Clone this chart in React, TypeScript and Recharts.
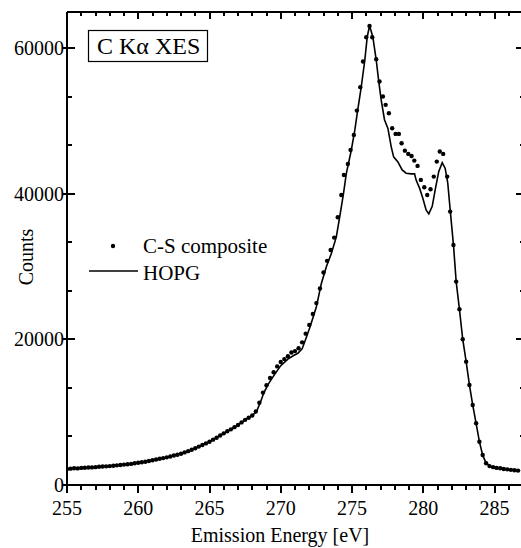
import React from 'react';
import * as R from 'recharts';
import {
  ComposedChart, Line, Scatter, XAxis, YAxis, Legend, Label, Customized,
} from 'recharts';

// ---------- data ----------
const seriesNames = ['C-S composite', 'HOPG'];
const titleText = 'C Kα XES';
const xAxisTitle = 'Emission Energy [eV]';
const yAxisTitle = 'Counts';

const xMajorTicks = [255, 260, 265, 270, 275, 280, 285];
const xMinorTicks = [256, 257, 258, 259, 261, 262, 263, 264, 266, 267, 268, 269, 271, 272, 273, 274, 276, 277, 278, 279, 281, 282, 283, 284, 286];
const yMajorTicks = [0, 20000, 40000, 60000];
const yMinorTicks = [6667, 13333, 26667, 33333, 46667, 53333];

const hopgEnergy = [
  255.0, 255.5, 256.0, 256.5, 257.0, 257.5, 258.0, 258.5, 259.0, 259.5,
  260.0, 260.5, 261.0, 261.5, 262.0, 262.5, 263.0, 263.5, 264.0, 264.5,
  265.0, 265.5, 266.0, 266.5, 267.0, 267.5, 268.0, 268.3, 268.6, 268.8,
  269.1, 269.5, 270.0, 270.5, 270.9, 271.2, 271.5, 271.8, 272.1, 272.5,
  272.85, 273.2, 273.55, 273.9, 274.15, 274.4, 274.6, 274.95, 275.2, 275.4,
  275.65, 275.9, 276.07, 276.23, 276.46, 276.7, 276.88, 277.05, 277.28, 277.52,
  277.75, 277.92, 278.22, 278.52, 278.8, 279.15, 279.39, 279.5, 279.74, 279.97,
  280.2, 280.39, 280.63, 280.86, 281.09, 281.33, 281.54, 281.72, 281.89, 282.12,
  282.31, 282.54, 282.77, 283.01, 283.24, 283.47, 283.71, 283.94, 284.17, 284.41,
  284.76, 285.34, 286.04, 286.8,
];
const hopgCounts = [
  2200, 2300, 2350, 2400, 2450, 2550, 2600, 2700, 2800, 2900,
  3050, 3200, 3400, 3600, 3800, 4050, 4300, 4650, 5050, 5500,
  5950, 6500, 7100, 7650, 8250, 8950, 9550, 10100, 11500, 12600,
  13800, 15000, 16400, 17300, 17800, 18100, 18700, 20300, 22000, 24500,
  27700, 30000, 31800, 34100, 37000, 40000, 42800, 46000, 48800, 51500,
  54700, 58400, 61600, 63100, 61600, 58400, 55400, 52900, 50200, 49000,
  46500, 45100, 44400, 43300, 42850, 42750, 42750, 41900, 40800, 39400,
  37800, 37250, 38300, 40800, 43100, 44300, 43500, 41500, 37800, 33000,
  27950, 24150, 20030, 16950, 13750, 11000, 8480, 5950, 4100, 3000,
  2500, 2300, 2100, 1950,
];

const csEnergy = [
  255.0, 255.25, 255.5, 255.75, 256.0, 256.25, 256.5, 256.75, 257.0, 257.25,
  257.5, 257.75, 258.0, 258.25, 258.5, 258.75, 259.0, 259.25, 259.5, 259.75,
  260.0, 260.25, 260.5, 260.75, 261.0, 261.25, 261.5, 261.75, 262.0, 262.25,
  262.5, 262.75, 263.0, 263.25, 263.5, 263.75, 264.0, 264.25, 264.5, 264.75,
  265.0, 265.25, 265.5, 265.75, 266.0, 266.25, 266.5, 266.75, 267.0, 267.25,
  267.5, 267.75, 268.0, 268.25, 268.5, 268.75, 269.0, 269.25, 269.5, 269.75,
  270.0, 270.25, 270.5, 270.75, 271.0, 271.25, 271.5, 271.75, 272.0, 272.25,
  272.5, 272.75, 273.0, 273.25, 273.5, 273.75, 274.0, 274.25, 274.43, 274.71,
  274.9, 275.13, 275.34, 275.58, 275.77, 276.0, 276.23, 276.42, 276.7, 276.93,
  277.17, 277.36, 277.59, 277.82, 278.06, 278.29, 278.48, 278.71, 278.95, 279.18,
  279.37, 279.6, 279.83, 280.07, 280.28, 280.51, 280.74, 280.95, 281.16, 281.4,
  281.68, 281.89, 282.12, 282.31, 282.54, 282.77, 283.01, 283.24, 283.47, 283.71,
  283.94, 284.17, 284.41, 284.65, 284.9, 285.15, 285.4, 285.65, 285.9, 286.15,
  286.4, 286.65,
];
const csCounts = [
  2200, 2250, 2300, 2280, 2350, 2380, 2400, 2420, 2450, 2500,
  2550, 2560, 2600, 2650, 2700, 2750, 2800, 2850, 2900, 2980,
  3050, 3120, 3200, 3300, 3400, 3500, 3600, 3700, 3800, 3920,
  4050, 4150, 4300, 4480, 4650, 4850, 5050, 5280, 5500, 5720,
  5950, 6230, 6500, 6800, 7100, 7380, 7650, 7950, 8250, 8600,
  8950, 9250, 9550, 10100, 11300, 12700, 13700, 14700, 15500, 16300,
  16900, 17300, 17700, 18200, 18400, 18800, 19600, 20800, 22000, 23500,
  25000, 27000, 29200, 30800, 32300, 34000, 36800, 39860, 42610, 44120,
  46050, 48110, 51450, 54670, 58190, 61540, 63090, 61540, 58520, 55440,
  53380, 52240, 51090, 49030, 48250, 48250, 46970, 45950, 45500, 45220,
  44580, 43850, 41930, 40920, 39860, 40650, 42380, 44440, 45820, 45500,
  42380, 37570, 32990, 27950, 24150, 20030, 16950, 13750, 11000, 8480,
  5950, 4120, 2980, 2600, 2450, 2350, 2300, 2200, 2150, 2080,
  2030, 1980,
];

const hopgData = hopgEnergy.map((e, i) => ({ e, c: hopgCounts[i] }));
const csData = csEnergy.map((e, i) => ({ e, c: csCounts[i] }));

// ---------- style ----------
const FONT = '"Liberation Serif", "Times New Roman", serif';
const INK = '#000';
const X_DOMAIN: [number, number] = [255, 287];
const Y_DOMAIN: [number, number] = [0, 65000];
const AXIS_LINE = { stroke: INK, strokeWidth: 2 };
const TW = 2; // tick thickness
const FALLBACK_AREA = { x: 59, y: 4, width: 456, height: 473 };

const renderBottomLabel = (p: any) => (
  <text x={p.x} y={Number(p.y) + 30} textAnchor="middle" fontSize={20} fontFamily={FONT} fill={INK}>
    {p.payload.value}
  </text>
);

const renderLeftLabel = (p: any) => (
  <text x={Number(p.x) - 3} y={Number(p.y) + 7} textAnchor="end" fontSize={20} fontFamily={FONT} fill={INK}>
    {p.payload.value}
  </text>
);

const usePlotAreaSafe: () => any = (R as any).usePlotArea || (() => undefined);

// frame tick marks (top/bottom/left/right), placed on the chart's plot area
const FrameTicks = () => {
  const area = usePlotAreaSafe();
  const ok = area && [area.x, area.y, area.width, area.height].every((n: any) => Number.isFinite(n));
  const pa = ok ? area : FALLBACK_AREA;
  const left = Math.round(pa.x);
  const top = Math.round(pa.y);
  const right = Math.round(pa.x + pa.width);
  const bottom = Math.round(pa.y + pa.height);
  const sx = (v: number) => Math.round(pa.x + ((v - X_DOMAIN[0]) / (X_DOMAIN[1] - X_DOMAIN[0])) * pa.width);
  const sy = (v: number) => Math.round(pa.y + pa.height - ((v - Y_DOMAIN[0]) / (Y_DOMAIN[1] - Y_DOMAIN[0])) * pa.height);
  const items: React.ReactNode[] = [];
  xMajorTicks.forEach((v) => {
    const x = sx(v);
    items.push(<rect key={`bM${v}`} x={x - 1} y={bottom} width={TW} height={8} fill={INK} />);
    items.push(<rect key={`tM${v}`} x={x - 1} y={top} width={TW} height={7} fill={INK} />);
  });
  xMinorTicks.forEach((v) => {
    const x = sx(v);
    items.push(<rect key={`bm${v}`} x={x - 1} y={bottom} width={TW} height={5} fill={INK} />);
    items.push(<rect key={`tm${v}`} x={x - 1} y={top} width={TW} height={4} fill={INK} />);
  });
  yMajorTicks.forEach((v) => {
    const y = sy(v);
    items.push(<rect key={`lM${v}`} x={left - 4} y={y - 1} width={12} height={TW} fill={INK} />);
    items.push(<rect key={`rM${v}`} x={right - 7} y={y - 1} width={7} height={TW} fill={INK} />);
  });
  yMinorTicks.forEach((v) => {
    const y = sy(v);
    items.push(<rect key={`lm${v}`} x={left} y={y - 1} width={5} height={TW} fill={INK} />);
    items.push(<rect key={`rm${v}`} x={right - 3} y={y - 1} width={3} height={TW} fill={INK} />);
  });
  return <g className="frame-ticks" shapeRendering="crispEdges">{items}</g>;
};

const Dot = (p: any) => <circle cx={p.cx} cy={p.cy} r={2.2} fill={INK} />;

const YTitle = (p: any) => {
  const vb = p.viewBox || { y: 4, height: 473 };
  const cx = 25;
  const cy = vb.y + vb.height / 2 + 8.5;
  return (
    <text x={cx} y={cy} transform={`rotate(-90 ${cx} ${cy})`} textAnchor="middle" fontSize={20} fontFamily={FONT} fill={INK}>
      {yAxisTitle}
    </text>
  );
};

const XTitle = (p: any) => {
  const vb = p.viewBox || { y: 477 };
  return (
    <text x={272} y={vb.y + 57} textAnchor="middle" fontSize={20} fontFamily={FONT} fill={INK}>
      {xAxisTitle}
    </text>
  );
};

const TitleBox = () => (
  <g>
    <rect x={80.5} y={22.5} width={119} height={31} fill="#fff" stroke={INK} strokeWidth={1.2} />
    <text x={89} y={45.5} fontSize={24} fontFamily={FONT} fill={INK}>{titleText}</text>
  </g>
);

const LegendContent = () => (
  <svg width={200} height={60} style={{ display: 'block' }}>
    <circle cx={25} cy={13} r={2.2} fill={INK} />
    <text x={55} y={20} fontSize={21} fontFamily={FONT} fill={INK}>{seriesNames[0]}</text>
    <line x1={1} x2={50} y1={38} y2={38} stroke={INK} strokeWidth={1.6} />
    <text x={55} y={47} fontSize={21} fontFamily={FONT} fill={INK}>{seriesNames[1]}</text>
  </svg>
);

export default function App() {
  return (
    <div style={{ position: 'absolute', left: 8, top: 8, width: 513, height: 540, overflow: 'hidden', background: '#fff' }}>
      <ComposedChart width={530} height={540} margin={{ top: 3, right: 14, bottom: 0, left: 0 }}>
        <XAxis
          xAxisId="b"
          dataKey="e"
          type="number"
          domain={X_DOMAIN}
          allowDataOverflow
          ticks={xMajorTicks}
          interval={0}
          height={63}
          tickSize={0}
          tickMargin={0}
          tickLine={false}
          tick={renderBottomLabel}
          axisLine={AXIS_LINE}
        >
          <Label content={<XTitle />} />
        </XAxis>
        <XAxis
          xAxisId="t"
          orientation="top"
          dataKey="e"
          type="number"
          domain={X_DOMAIN}
          allowDataOverflow
          ticks={xMajorTicks}
          interval={0}
          height={1}
          tick={false}
          tickLine={false}
          axisLine={AXIS_LINE}
        />
        <YAxis
          yAxisId="l"
          type="number"
          domain={Y_DOMAIN}
          allowDataOverflow
          ticks={yMajorTicks}
          interval={0}
          width={59}
          tickSize={0}
          tickMargin={0}
          tickLine={false}
          tick={renderLeftLabel}
          axisLine={AXIS_LINE}
        >
          <Label content={<YTitle />} />
        </YAxis>
        <YAxis
          yAxisId="r"
          orientation="right"
          type="number"
          domain={Y_DOMAIN}
          allowDataOverflow
          ticks={yMajorTicks}
          interval={0}
          width={1}
          tick={false}
          tickLine={false}
          axisLine={AXIS_LINE}
        />
        <Line
          xAxisId="b"
          yAxisId="l"
          data={hopgData}
          dataKey="c"
          name={seriesNames[1]}
          type="linear"
          stroke={INK}
          strokeWidth={1.6}
          dot={false}
          activeDot={false}
          isAnimationActive={false}
        />
        <Scatter
          xAxisId="b"
          yAxisId="l"
          data={csData}
          dataKey="c"
          name={seriesNames[0]}
          fill={INK}
          shape={<Dot />}
          isAnimationActive={false}
        />
        <Customized component={<FrameTicks />} />
        <Customized component={<TitleBox />} />
        <Legend
          layout="vertical"
          align="center"
          verticalAlign="middle"
          wrapperStyle={{ left: 80, top: 225, width: 200, height: 60 }}
          content={<LegendContent />}
        />
      </ComposedChart>
    </div>
  );
}
